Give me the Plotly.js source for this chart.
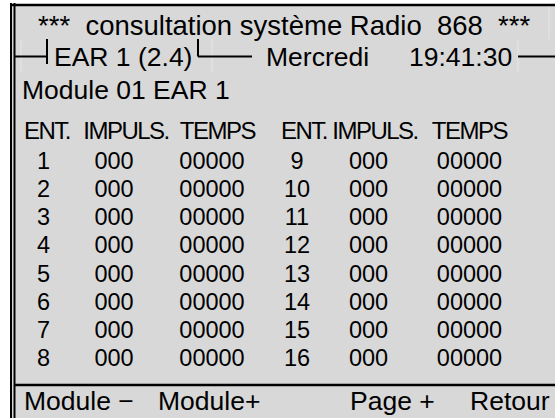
<!DOCTYPE html>
<html><head><meta charset="utf-8">
<script src="https://cdn.plot.ly/plotly-3.0.1.min.js"></script>
<style>html,body{margin:0;padding:0;background:#fff;overflow:hidden}</style>
</head><body><div id="chart" style="width:555px;height:418px"></div>
<script>
// ---- data ----
const entriesLeft  = ["1","2","3","4","5","6","7","8"];
const impulsLeft   = ["000","000","000","000","000","000","000","000"];
const tempsLeft    = ["00000","00000","00000","00000","00000","00000","00000","00000"];
const entriesRight = ["9","10","11","12","13","14","15","16"];
const impulsRight  = ["000","000","000","000","000","000","000","000"];
const tempsRight   = ["00000","00000","00000","00000","00000","00000","00000","00000"];
const headerLabels = ["ENT.","IMPULS.","TEMPS"];
const titleText    = "***  consultation système Radio  868  ***";
const stationLabel = "EAR 1 (2.4)";
const dayLabel     = "Mercredi";
const timeLabel    = "19:41:30";
const moduleLabel  = "Module 01 EAR 1";
const footerLabels = ["Module \u2212","Module+","Page +","Retour"];

// ---- layout constants ----
const W = 555, H = 418;
const FONT = "Liberation Sans, Arial, Helvetica, sans-serif";
const FS = 26.5, FS_DATA = 23.5, FS_HDR = 24, FS_TITLE = 27.5;
const INK = "#000000";
const BG = "#d8d8d8";
const rowY0 = 163, rowStep = 28.2;
const blocks = [
  {ent: entriesLeft,  imp: impulsLeft,  tmp: tempsLeft,  xEnt: 43.5, xImp: 114, xTmp: 212,   xHdr: [46.5, 126, 217.5]},
  {ent: entriesRight, imp: impulsRight, tmp: tempsRight, xEnt: 297,  xImp: 368.5, xTmp: 469.5, xHdr: [304, 375, 469]}
];
const headerY = 130;
const footerX = [22, 156, 348, 468];
const footerY = 401;

const traces = [];
blocks.forEach(b => {
  const ys = b.ent.map((_, i) => rowY0 + i * rowStep);
  [[b.ent, b.xEnt], [b.imp, b.xImp], [b.tmp, b.xTmp]].forEach(([vals, x]) => {
    traces.push({
      type: "scatter", mode: "text",
      x: vals.map(() => x), y: ys, text: vals,
      textposition: "middle center",
      textfont: {family: FONT, size: FS_DATA, color: INK},
      hoverinfo: "skip", showlegend: false, cliponaxis: false
    });
  });
});

const ann = [];
function A(text, x, y, anchor, size) {
  ann.push({text, x, y, xref: "x", yref: "y", xanchor: anchor, yanchor: "middle",
            showarrow: false, font: {family: FONT, size: size || FS, color: INK}});
}
A(titleText, 284.5, 25, "center", FS_TITLE);
A(stationLabel, 52, 57, "left");
A(dayLabel, 264, 57, "left");
A(timeLabel, 407, 57, "left");
A(moduleLabel, 20, 90, "left");
blocks.forEach(b => headerLabels.forEach((h, k) => A(h, b.xHdr[k], headerY, "center", FS_HDR)));
footerLabels.forEach((f, k) => A(f, footerX[k], footerY, "left"));

function L(x0, y0, x1, y1, w, c) {
  return {type: "line", xref: "x", yref: "y", x0, y0, x1, y1, line: {color: c || "#000", width: w || 2}, layer: "above"};
}
const FAINT = "#e6e6e6";
const shapes = [
  {type: "rect", xref: "x", yref: "y", x0: 10, x1: W, y0: 4, y1: H, fillcolor: BG, line: {width: 0}, layer: "below"},
  // faint screen-cell seams
  L(21, 39, 21, 72, 1, FAINT),
  L(212, 39, 212, 72, 1, FAINT),
  L(518, 39, 518, 72, 1, FAINT),
  L(549, 6, 549, 39, 1, FAINT),
  // frame
  L(11, 3, 11, H, 2),
  L(14.5, 3, 14.5, H, 2),
  L(10, 5, W, 5, 2.5),
  // row 2 decorations
  L(14, 56.5, 47, 56.5, 2),
  L(47, 39, 47, 64, 2),
  L(198, 39, 198, 56.5, 2),
  L(198, 56.5, 252, 56.5, 2),
  L(518, 56.5, W, 56.5, 2),
  // footer separator
  L(14, 385, W, 385, 2.5)
];

const layout = {
  width: W, height: H,
  margin: {l: 0, r: 0, t: 0, b: 0},
  paper_bgcolor: "#ffffff", plot_bgcolor: "rgba(0,0,0,0)",
  xaxis: {range: [0, W], visible: false, fixedrange: true},
  yaxis: {range: [H, 0], visible: false, fixedrange: true},
  shapes, annotations: ann, showlegend: false
};
Plotly.newPlot("chart", traces, layout, {staticPlot: true, displayModeBar: false}).then(gd => {
  gd.querySelectorAll(".annotation-text").forEach(t => {
    if (headerLabels.includes(t.textContent)) t.style.letterSpacing = "-1.5px";
  });
});
</script></body></html>
